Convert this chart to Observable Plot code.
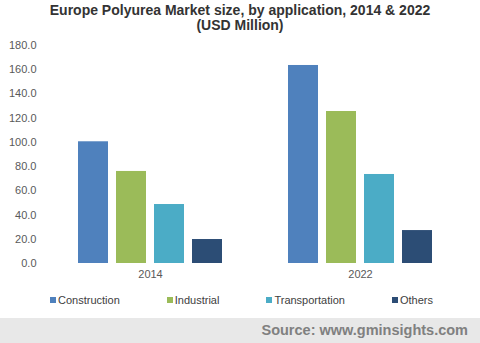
<!DOCTYPE html>
<html>
<head>
<meta charset="utf-8">
<script src="https://cdn.jsdelivr.net/npm/d3@7"></script>
<script src="https://cdn.jsdelivr.net/npm/@observablehq/plot@0.6"></script>
<style>
  html, body { margin: 0; padding: 0; background: #fff; }
  body { width: 480px; height: 343px; position: relative; overflow: hidden; font-family: "Liberation Sans", Arial, sans-serif; }
  #title { position: absolute; left: 0; top: 3px; width: 480px; text-align: center; font-weight: bold; font-size: 14px; line-height: 15px; color: #333; }
  #chart { position: absolute; left: 0; top: 36px; }
  #legend { position: absolute; left: 50px; top: 293px; display: flex; gap: 47px; font-size: 11px; color: #404040; line-height: 14px; }
  #legend span.sw { display: inline-block; width: 6px; height: 6px; margin-right: 2px; vertical-align: 1px; }
  #footer { position: absolute; left: 0; top: 318px; width: 480px; height: 25px; background: #e8e8e8; }
  #footer div { position: absolute; right: 12px; top: 4px; font-weight: bold; font-size: 14.5px; color: #808080; }
</style>
</head>
<body>
<div id="title">Europe Polyurea Market size, by application, 2014 &amp; 2022<br>(USD Million)</div>
<div id="chart"></div>
<div id="legend"></div>
<div id="footer"><div>Source: www.gminsights.com</div></div>
<script>
const years = ["2014", "2022"];
const applications = ["Construction", "Industrial", "Transportation", "Others"];
const values2014 = [100.5, 76.0, 48.7, 19.8];
const values2022 = [163.5, 125.5, 73.5, 27.2];
const colors = ["#4f81bd", "#9bbb59", "#4bacc6", "#2c4d75"];
const yTicks = [0, 20, 40, 60, 80, 100, 120, 140, 160, 180];

const data = [];
applications.forEach((a, i) => {
  data.push({year: years[0], app: a, value: values2014[i]});
  data.push({year: years[1], app: a, value: values2022[i]});
});

const chart = Plot.plot({
  width: 480,
  height: 249,
  marginTop: 9,
  marginBottom: 22,
  marginLeft: 45,
  marginRight: 15,
  style: {fontFamily: "'Liberation Sans', Arial, sans-serif", fontSize: "11px", color: "#595959", background: "transparent"},
  fx: {domain: years, padding: 0, label: null, tickSize: 0, tickPadding: 7, axis: "bottom"},
  x: {domain: applications, paddingInner: 0.21, paddingOuter: 0.868, axis: null},
  y: {domain: [0, 180], ticks: yTicks, tickFormat: d => d.toFixed(1), tickSize: 0, tickPadding: 9, label: null},
  color: {domain: applications, range: colors},
  marks: [
    Plot.barY(data, {fx: "year", x: "app", y: "value", fill: "app"})
  ]
});
document.getElementById("chart").appendChild(chart);

const legend = document.getElementById("legend");
applications.forEach((a, i) => {
  const item = document.createElement("div");
  const sw = document.createElement("span");
  sw.className = "sw";
  sw.style.background = colors[i];
  item.appendChild(sw);
  item.appendChild(document.createTextNode(a));
  legend.appendChild(item);
});
</script>
</body>
</html>
